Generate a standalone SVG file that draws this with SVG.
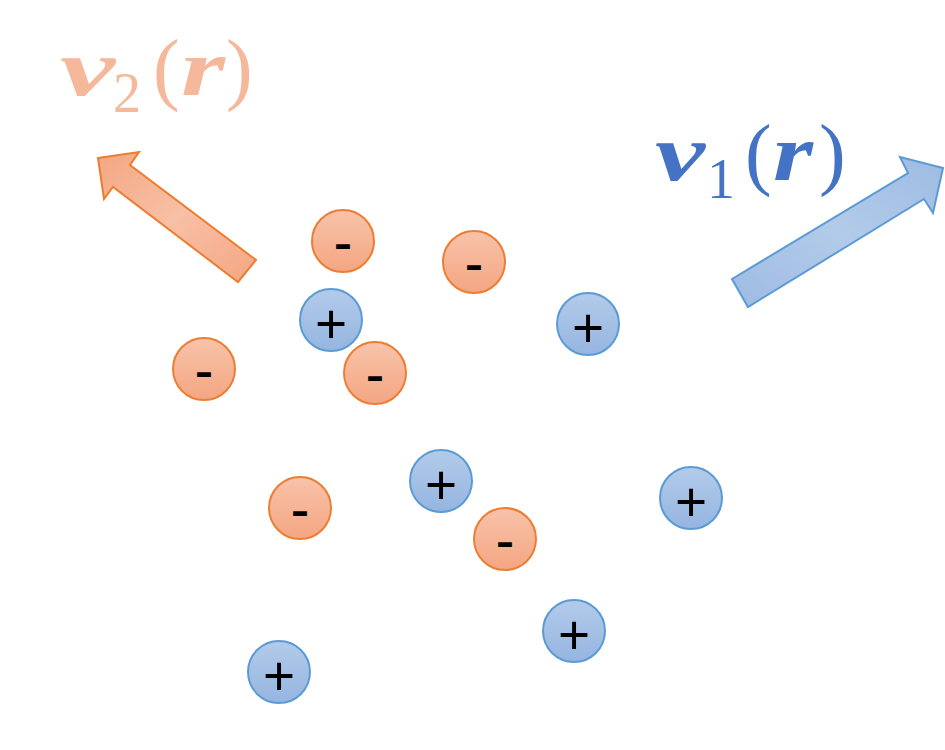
<svg xmlns="http://www.w3.org/2000/svg" width="945" height="750" viewBox="0 0 945 750">
<defs>
<linearGradient id="go" x1="0" y1="0" x2="0" y2="1"><stop offset="0" stop-color="#f8c3aa"/><stop offset="1" stop-color="#f4a682"/></linearGradient>
<linearGradient id="gb" x1="0" y1="0" x2="0" y2="1"><stop offset="0" stop-color="#b3cbea"/><stop offset="1" stop-color="#95b5e0"/></linearGradient>
<linearGradient id="gao" x1="0" y1="0" x2="1" y2="1"><stop offset="0" stop-color="#f4a682"/><stop offset="0.5" stop-color="#f8c0a6"/><stop offset="1" stop-color="#f4a682"/></linearGradient>
<linearGradient id="gab" x1="0" y1="1" x2="1" y2="0"><stop offset="0" stop-color="#9dbbe2"/><stop offset="0.5" stop-color="#b3cbea"/><stop offset="1" stop-color="#9dbbe2"/></linearGradient>
<style>
.neg{fill:url(#go);stroke:#ed7d31;stroke-width:2}
.pos{fill:url(#gb);stroke:#5b9bd5;stroke-width:2}
.sgn{font-family:"Liberation Sans",Arial,sans-serif;fill:#000;text-anchor:middle}
.m{font-size:40px;font-weight:bold}
.p{font-size:55px}
.lbl{font-family:"Liberation Serif","DejaVu Serif",serif;font-size:80px}
.it{font-style:italic;font-weight:bold}
.sub{font-size:56px}
</style>
</defs>
<g id="arrow-v2"><polygon points="98,158 139,152 130,165 256,260 238,282 113,187 104,199" fill="url(#gao)" stroke="#ed7d31" stroke-width="2" stroke-linejoin="miter"/></g>
<g id="arrow-v1"><polygon points="732,279 908,173 900,157 943,168 933,213 924,199 748,307" fill="url(#gab)" stroke="#5b9bd5" stroke-width="2"/></g>
<g id="label-v2" class="lbl" fill="#f5b89a">
<text class="it" x="60" y="95" textLength="55" lengthAdjust="spacingAndGlyphs">v</text>
<text class="sub" x="113" y="112">2</text>
<text x="153" y="95">(</text>
<text class="it" x="181" y="95" textLength="44" lengthAdjust="spacingAndGlyphs">r</text>
<text x="226" y="95">)</text>
</g>
<g id="label-v1" class="lbl" fill="#4472c4">
<text class="it" x="655" y="180" textLength="50" lengthAdjust="spacingAndGlyphs">v</text>
<text class="sub" x="707" y="198">1</text>
<text x="745" y="180">(</text>
<text class="it" x="773" y="180" textLength="40" lengthAdjust="spacingAndGlyphs">r</text>
<text x="819" y="180">)</text>
</g>
<g id="n1"><circle class="neg" cx="343" cy="241" r="31"/><text class="sgn m" x="343" y="257" textLength="18" lengthAdjust="spacingAndGlyphs">-</text></g>
<g id="n2"><circle class="neg" cx="474" cy="262" r="31"/><text class="sgn m" x="474" y="278" textLength="18" lengthAdjust="spacingAndGlyphs">-</text></g>
<g id="n3"><circle class="neg" cx="204" cy="369" r="31"/><text class="sgn m" x="204" y="385" textLength="18" lengthAdjust="spacingAndGlyphs">-</text></g>
<g id="n4"><circle class="neg" cx="375" cy="373" r="31"/><text class="sgn m" x="375" y="389" textLength="18" lengthAdjust="spacingAndGlyphs">-</text></g>
<g id="n5"><circle class="neg" cx="300" cy="508" r="31"/><text class="sgn m" x="300" y="524" textLength="18" lengthAdjust="spacingAndGlyphs">-</text></g>
<g id="n6"><circle class="neg" cx="505" cy="539" r="31"/><text class="sgn m" x="505" y="555" textLength="18" lengthAdjust="spacingAndGlyphs">-</text></g>
<g id="p1"><circle class="pos" cx="331" cy="320" r="31"/><text class="sgn p" x="331" y="343">+</text></g>
<g id="p2"><circle class="pos" cx="588" cy="324" r="31"/><text class="sgn p" x="588" y="347">+</text></g>
<g id="p3"><circle class="pos" cx="441" cy="481" r="31"/><text class="sgn p" x="441" y="504">+</text></g>
<g id="p4"><circle class="pos" cx="691" cy="498" r="31"/><text class="sgn p" x="691" y="521">+</text></g>
<g id="p5"><circle class="pos" cx="574" cy="631" r="31"/><text class="sgn p" x="574" y="654">+</text></g>
<g id="p6"><circle class="pos" cx="279" cy="672" r="31"/><text class="sgn p" x="279" y="695">+</text></g>
<g id="connectors"/>
</svg>
